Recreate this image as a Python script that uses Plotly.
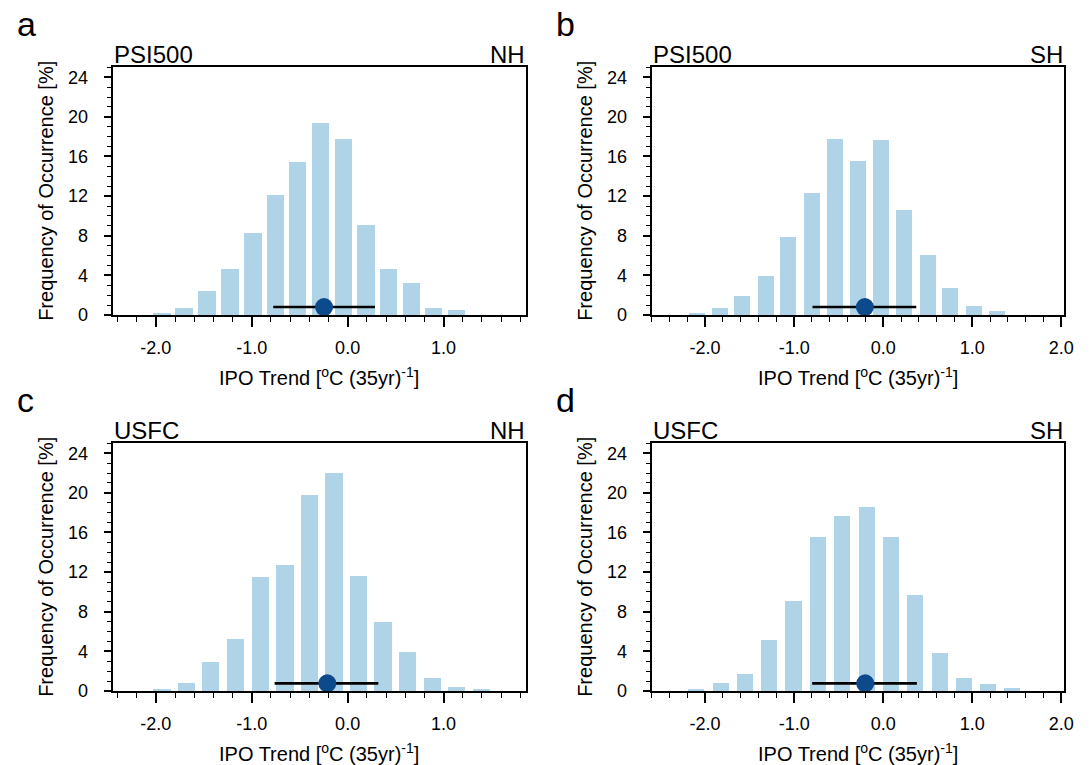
import plotly.graph_objects as go

W, H = 1089, 765

# ---------------- data ----------------
bins_a = [-1.94, -1.71, -1.47, -1.23, -0.99, -0.757, -0.524, -0.288, -0.05, 0.187, 0.42, 0.66, 0.89, 1.13]
freq_a = [0.2, 0.7, 2.4, 4.6, 8.2, 12.1, 15.4, 19.3, 17.75, 9.06, 4.63, 3.2, 0.7, 0.5]

bins_b = [-2.10, -1.84, -1.59, -1.32, -1.07, -0.805, -0.545, -0.283, -0.024, 0.232, 0.494, 0.75, 1.017, 1.277]
freq_b = [0.15, 0.7, 1.9, 3.9, 7.8, 12.3, 17.75, 15.5, 17.6, 10.6, 6.07, 2.7, 0.87, 0.4]

bins_c = [-1.94, -1.686, -1.43, -1.171, -0.912, -0.657, -0.40, -0.146, 0.109, 0.365, 0.62, 0.878, 1.133, 1.39]
freq_c = [0.1, 0.74, 2.9, 5.19, 11.48, 12.73, 19.76, 21.95, 11.55, 6.94, 3.87, 1.31, 0.34, 0.13]

bins_d = [-2.11, -1.828, -1.552, -1.283, -1.011, -0.740, -0.464, -0.191, 0.08, 0.352, 0.629, 0.904, 1.17, 1.444]
freq_d = [0.1, 0.74, 1.68, 5.08, 9.02, 15.52, 17.64, 18.52, 15.52, 9.7, 3.84, 1.31, 0.71, 0.24]

# spread (low, high), median, and vertical position of the marker line
spread_lo = [-0.776, -0.794, -0.761, -0.798]
spread_hi = [0.285, 0.371, 0.32, 0.378]
median = [-0.246, -0.206, -0.212, -0.202]
marker_y = [0.8, 0.8, 0.77, 0.77]

panel_letters = ["a", "b", "c", "d"]
left_titles = ["PSI500", "PSI500", "USFC", "USFC"]
right_titles = ["NH", "SH", "NH", "SH"]

y_tickvals = [0, 4, 8, 12, 16, 20, 24]
y_ticktext = ["0", "4", "8", "12", "16", "20", "24"]
x_tickvals = [-2, -1, 0, 1, 2]
x_ticktext = ["-2.0", "-1.0", "0.0", "1.0", "2.0"]

x_ranges = [[-2.45, 1.86], [-2.6, 2.03], [-2.45, 1.86], [-2.6, 2.03]]
y_range = [0, 25]

BAR_COLOR = "#b0d4e7"
DOT_COLOR = "#0c4a8c"
FONT = "Liberation Sans, Arial, Helvetica, sans-serif"

# panel boxes in window pixels (left, right, top, bottom)
boxes = [
    (112.7, 526.0, 67.3, 315.0),
    (651.7, 1064.0, 67.3, 315.0),
    (112.7, 526.0, 443.3, 691.0),
    (651.7, 1064.0, 443.3, 691.0),
]

bins_all = [bins_a, bins_b, bins_c, bins_d]
freq_all = [freq_a, freq_b, freq_c, freq_d]

fig = go.Figure()
annotations = []


def px(x):
    return x / W


def py(y):
    return 1 - y / H


for i in range(4):
    xa = "x" if i == 0 else f"x{i + 1}"
    ya = "y" if i == 0 else f"y{i + 1}"
    xkey = "xaxis" if i == 0 else f"xaxis{i + 1}"
    ykey = "yaxis" if i == 0 else f"yaxis{i + 1}"
    L, R, T, B = boxes[i]

    fig.add_trace(go.Bar(x=bins_all[i], y=freq_all[i], width=0.18,
                         marker=dict(color=BAR_COLOR, line=dict(width=0)),
                         xaxis=xa, yaxis=ya, showlegend=False))
    fig.add_trace(go.Scatter(x=[spread_lo[i], spread_hi[i]], y=[marker_y[i], marker_y[i]],
                             mode="lines", line=dict(color="black", width=2.6),
                             xaxis=xa, yaxis=ya, showlegend=False))
    fig.add_trace(go.Scatter(x=[median[i]], y=[marker_y[i]], mode="markers",
                             marker=dict(color=DOT_COLOR, size=18, line=dict(width=0)),
                             xaxis=xa, yaxis=ya, showlegend=False, cliponaxis=False))

    fig.layout[xkey] = dict(
        domain=[px(L), px(R)], anchor=ya, range=x_ranges[i], automargin=False,
        showline=True, linecolor="black", linewidth=2, mirror=True,
        showgrid=False, zeroline=False,
        tickmode="array", tickvals=x_tickvals, ticktext=x_ticktext,
        ticks="outside", ticklen=10, tickwidth=1.5, tickcolor="black",
        minor=dict(tickmode="linear", tick0=0, dtick=0.2, ticks="outside",
                   ticklen=5, tickwidth=1.2, tickcolor="black", showgrid=False),
        tickfont=dict(family=FONT, size=18, color="black"),
        ticklabelstandoff=5,
    )
    fig.layout[ykey] = dict(
        domain=[py(B), py(T)], anchor=xa, range=y_range, automargin=False,
        showline=True, linecolor="black", linewidth=2, mirror=True,
        showgrid=False, zeroline=False,
        tickmode="array", tickvals=y_tickvals, ticktext=y_ticktext,
        ticks="outside", ticklen=7, tickwidth=1.5, tickcolor="black",
        minor=dict(tickmode="linear", tick0=0, dtick=1, ticks="outside",
                   ticklen=4, tickwidth=1.2, tickcolor="black", showgrid=False),
        tickfont=dict(family=FONT, size=18, color="black"),
        ticklabelstandoff=12,
    )

    # panel letter
    annotations.append(dict(text=panel_letters[i], x=px(L - 98), y=py(T - 43),
                            xref="paper", yref="paper", xanchor="left", yanchor="middle",
                            showarrow=False, font=dict(family=FONT, size=34, color="black")))
    # left title
    annotations.append(dict(text=left_titles[i], x=px(L - 1), y=py(T - 12.5),
                            xref="paper", yref="paper", xanchor="left", yanchor="middle",
                            showarrow=False, font=dict(family=FONT, size=24, color="black")))
    # right title
    annotations.append(dict(text=right_titles[i], x=px(R + 1), y=py(T - 12.5),
                            xref="paper", yref="paper", xanchor="right", yanchor="middle",
                            showarrow=False, font=dict(family=FONT, size=24, color="black")))
    # y title
    annotations.append(dict(text="Frequency of Occurrence [%]", x=px(L - 67), y=py((T + B) / 2),
                            xref="paper", yref="paper", xanchor="center", yanchor="middle",
                            textangle=-90, showarrow=False,
                            font=dict(family=FONT, size=20, color="black")))
    # x title
    annotations.append(dict(text="IPO Trend [<sup>o</sup>C (35yr)<sup>-1</sup>]",
                            x=px((L + R) / 2), y=py(B + 61),
                            xref="paper", yref="paper", xanchor="center", yanchor="middle",
                            showarrow=False, font=dict(family=FONT, size=20, color="black")))

fig.update_layout(
    width=W, height=H,
    margin=dict(l=0, r=0, t=0, b=0, autoexpand=False),
    paper_bgcolor="white", plot_bgcolor="white",
    annotations=annotations,
    bargap=0,
    font=dict(family=FONT, color="black"),
)

# remove the browser's default 8px body margin so the figure fills the window
fig.write_html("out.html",
               config={"displayModeBar": False},
               post_script="document.body.style.margin='0';document.body.style.overflow='hidden';")
